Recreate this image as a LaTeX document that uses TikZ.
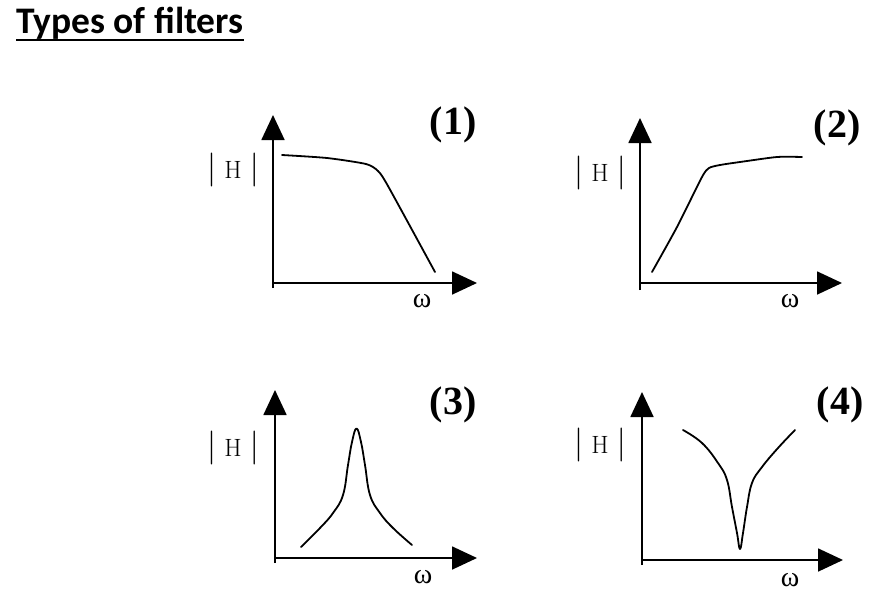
\documentclass[tikz,border=0pt]{standalone}
\usepackage{fix-cm}
\usepackage{fontspec}
\usetikzlibrary{arrows.meta}
\newfontfamily\titlefont{Carlito}
\newfontfamily\numfont{Liberation Serif}
\newcommand{\tallbar}{{\fontsize{34}{34}\selectfont|}}
\newcommand{\magH}{\tallbar\hspace{8pt}H\hspace{8pt}\tallbar}
\begin{document}
\begin{tikzpicture}[x=1pt,y=-1pt,
  axis/.style={line width=1.8pt,-{Triangle[length=25pt,width=23pt]}},
  curve/.style={line width=1.8pt,line cap=round,line join=round},
  num/.style={inner sep=0pt,font=\numfont\bfseries\fontsize{40}{42}\selectfont},
  hlab/.style={inner sep=0pt,font=\fontsize{25}{28}\selectfont},
  wlab/.style={inner sep=0pt,font=\numfont\fontsize{28}{30}\selectfont}]
\useasboundingbox[fill=white] (0,0) rectangle (884,598);
% title
\node[inner sep=0pt,anchor=base west,font=\titlefont\bfseries\fontsize{37.5}{40}\selectfont] (title) at (16,33) {Types of filters};
\draw[line width=2.6pt] ([yshift=-7pt]title.base west) -- ([yshift=-7pt]title.base east);

% panel 1
\coordinate (b1) at (273,288); \coordinate (t1) at (273,115);
\coordinate (o1) at (273,283); \coordinate (r1) at (477,283);
\draw[axis] (b1) -- (t1);
\draw[axis] (o1) -- (r1);
\draw[curve] plot[smooth,tension=0.4] coordinates {(282,155) (327,158) (366,164) (378,171) (388,186) (435,272)};
\node[num] (n1) at (453,125) {(1)};
\node[hlab] (h1) at (233,170) {\magH};
\node[wlab] (w1) at (422,301) {ω};

% panel 2
\coordinate (b2) at (640,290); \coordinate (t2) at (640,118);
\coordinate (o2) at (640,283); \coordinate (r2) at (842,283);
\draw[axis] (b2) -- (t2);
\draw[axis] (o2) -- (r2);
\draw[curve] plot[smooth,tension=0.4] coordinates {(652,272) (677,227) (702,177) (709,168) (720,165) (740,162) (777,157) (802,157)};
\node[num] (n2) at (837,128) {(2)};
\node[hlab] (h2) at (600,173) {\magH};
\node[wlab] (w2) at (790,301) {ω};

% panel 3
\coordinate (b3) at (275,563); \coordinate (t3) at (275,390);
\coordinate (o3) at (275,558); \coordinate (r3) at (477,558);
\draw[axis] (b3) -- (t3);
\draw[axis] (o3) -- (r3);
\draw[curve] plot[smooth,tension=0.7] coordinates {(301,547) (320,528) (333,513) (343,495) (348,465) (352,442) (356.5,428.5) (361,442) (365,465) (370,495) (380,513) (393,528) (412,545)};
\node[num] (n3) at (453,405) {(3)};
\node[hlab] (h3) at (233,448) {\magH};
\node[wlab] (w3) at (423,577) {ω};

% panel 4
\coordinate (b4) at (642,565); \coordinate (t4) at (642,392);
\coordinate (o4) at (642,560); \coordinate (r4) at (843,560);
\draw[axis] (b4) -- (t4);
\draw[axis] (o4) -- (r4);
\draw[curve] plot[smooth,tension=0.7] coordinates {(683,430) (702,443) (718,463) (727,480) (732,507) (737,533) (740,549) (743,533) (747,507) (752,483) (762,467) (778,448) (795,430)};
\node[num] (n4) at (840,405) {(4)};
\node[hlab] (h4) at (600,445) {\magH};
\node[wlab] (w4) at (790,580) {ω};
\end{tikzpicture}
\end{document}
